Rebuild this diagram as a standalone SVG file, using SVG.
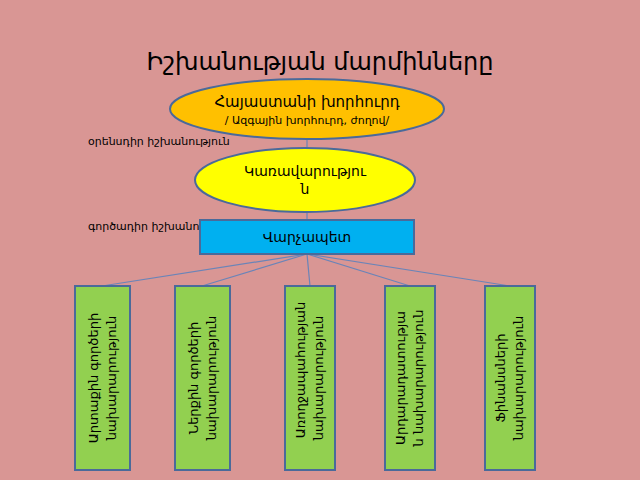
<svg xmlns="http://www.w3.org/2000/svg" width="640" height="480" viewBox="0 0 640 480">
<style>
text{font-family:"DejaVu Sans","Noto Sans",sans-serif;fill:#000}
.n{stroke:#4a6a9a;stroke-width:2}
.g{fill:#92D050}
.c{stroke:#6a84b8;stroke-width:1.2;fill:none}
.v{font-size:13px}
</style>
<rect width="640" height="480" fill="#D99694"/>
<text x="320" y="70" font-size="24" text-anchor="middle">Իշխանության մարմինները</text>
<text x="88" y="145" font-size="11">օրենսդիր իշխանություն</text>
<text x="88" y="230" font-size="11">գործադիր իշխանություն</text>
<g id="connectors">
<line class="c" x1="307" y1="138" x2="307" y2="148"/>
<line class="c" x1="307" y1="212" x2="307" y2="220"/>
<line class="c" x1="307" y1="254" x2="102" y2="286"/>
<line class="c" x1="307" y1="254" x2="202" y2="286"/>
<line class="c" x1="307" y1="254" x2="310" y2="286"/>
<line class="c" x1="307" y1="254" x2="410" y2="286"/>
<line class="c" x1="307" y1="254" x2="510" y2="286"/>
</g>
<g id="council"><ellipse class="n" cx="307" cy="109" rx="137" ry="30" fill="#FFC000"/>
<text x="307" y="107" font-size="15" text-anchor="middle">Հայաստանի խորհուրդ</text>
<text x="307" y="124" font-size="11" text-anchor="middle">/ Ազգային խորհուրդ, ժողով/</text></g>
<g id="government"><ellipse class="n" cx="305" cy="180" rx="110" ry="32" fill="#FFFF00"/>
<text x="305" y="176" font-size="14" text-anchor="middle">Կառավարությու</text>
<text x="305" y="194" font-size="14" text-anchor="middle">ն</text></g>
<g id="pm"><rect class="n" x="200" y="220" width="214" height="34" fill="#00B0F0"/>
<text x="307" y="242" font-size="14" text-anchor="middle">Վարչապետ</text></g>
<g id="m1"><rect class="n g" x="75" y="286" width="55" height="184"/>
<text class="v" transform="translate(98,378) rotate(-90)" text-anchor="middle">Արտաքին գործերի</text>
<text class="v" transform="translate(116,378) rotate(-90)" text-anchor="middle">նախարարություն</text></g>
<g id="m2"><rect class="n g" x="175" y="286" width="55" height="184"/>
<text class="v" transform="translate(198,378) rotate(-90)" text-anchor="middle">Ներքին գործերի</text>
<text class="v" transform="translate(216,378) rotate(-90)" text-anchor="middle">նախարարություն</text></g>
<g id="m3"><rect class="n g" x="285" y="286" width="50" height="184"/>
<text class="v" transform="translate(305,370) rotate(-90)" text-anchor="middle">Առողջապահության</text>
<text class="v" transform="translate(323,378) rotate(-90)" text-anchor="middle">նախարարություն</text></g>
<g id="m4"><rect class="n g" x="385" y="286" width="50" height="184"/>
<text class="v" transform="translate(405,378) rotate(-90)" text-anchor="middle">Արդարադատությա</text>
<text class="v" transform="translate(423,378) rotate(-90)" text-anchor="middle">ն նախարարություն</text></g>
<g id="m5"><rect class="n g" x="485" y="286" width="50" height="184"/>
<text class="v" transform="translate(505,378) rotate(-90)" text-anchor="middle">Ֆինանսների</text>
<text class="v" transform="translate(523,378) rotate(-90)" text-anchor="middle">նախարարություն</text></g>
</svg>
